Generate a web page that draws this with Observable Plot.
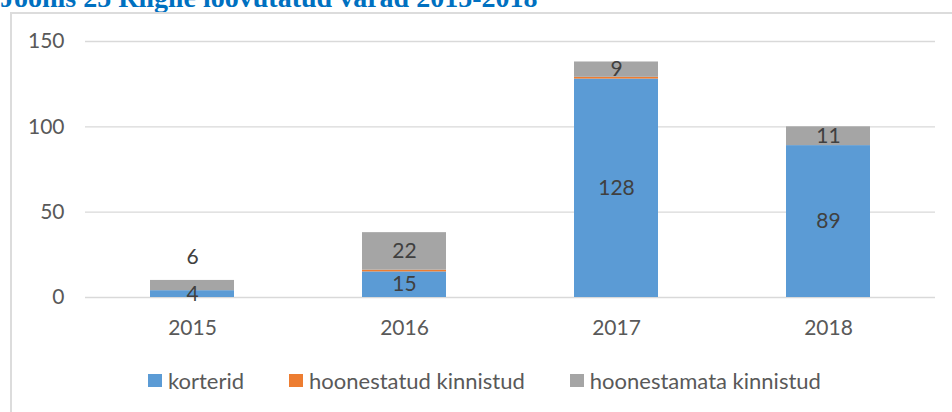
<!DOCTYPE html>
<html>
<head>
<meta charset="utf-8">
<script src="https://cdn.jsdelivr.net/npm/d3@7"></script>
<script src="https://cdn.jsdelivr.net/npm/@observablehq/plot@0.6"></script>
<style>
  html, body { margin: 0; padding: 0; background: #fff; width: 952px; height: 412px; overflow: hidden; position: relative; font-family: Lato, sans-serif; }
  #title { position: absolute; left: 0; top: -14px; font-family: "Liberation Serif", serif; font-weight: bold; font-size: 28px; line-height: 24px; color: #0070C0; white-space: nowrap; }
  #frame { position: absolute; left: 10px; top: 12px; width: 1000px; height: 450px; border: 2px solid #DCDCDC; box-sizing: border-box; }
  #chart { position: absolute; left: 0; top: 0; }
  #legend { position: absolute; left: 148px; top: 367px; display: flex; align-items: center; font-family: Lato, sans-serif; font-size: 22px; color: #595959; white-space: nowrap; }
  .item { display: flex; align-items: center; margin-right: 45px; }
  .sw { width: 14px; height: 13px; margin-right: 6px; }
</style>
</head>
<body>
<div id="title">Joonis 25 Riigile loovutatud varad 2015-2018</div>
<div id="frame"></div>
<div id="chart"></div>
<div id="legend"></div>
<script>
const years = ["2015", "2016", "2017", "2018"];
const seriesNames = ["korterid", "hoonestatud kinnistud", "hoonestamata kinnistud"];
const colors = ["#5B9BD5", "#ED7D31", "#A5A5A5"];
const korterid = [4, 15, 128, 89];
const hoonestatud = [0, 1, 1, 0];
const hoonestamata = [6, 22, 9, 11];
const yTicks = [0, 50, 100, 150];

const seriesValues = [korterid, hoonestatud, hoonestamata];
const data = [];
seriesNames.forEach((s, i) => {
  years.forEach((y, j) => {
    data.push({year: y, series: s, value: seriesValues[i][j]});
  });
});

// labels shown: korterid and hoonestamata; small top segments are labelled above the bar
const labelled = d => d.series !== "hoonestatud kinnistud";
const smallTop = d => d.series === "hoonestamata kinnistud" && d.value < 7;

const plot = Plot.plot({
  width: 952,
  height: 412,
  marginLeft: 85,
  marginRight: 17,
  marginTop: 41,
  marginBottom: 115,
  style: {fontFamily: "Lato, sans-serif", fontSize: "21px", color: "#595959", background: "transparent"},
  x: {domain: years, paddingInner: 0.605, paddingOuter: 0.3025, label: null, tickSize: 0, tickPadding: 23},
  y: {domain: [0, 150], ticks: yTicks, label: null, tickSize: 0, tickPadding: 21},
  color: {domain: seriesNames, range: colors},
  marks: [
    Plot.gridY(yTicks, {stroke: "#D9D9D9", strokeOpacity: 1, strokeWidth: 1.3}),
    Plot.barY(data, Plot.stackY({x: "year", y: "value", z: "series", fill: "series", order: seriesNames})),
    Plot.text(data, Plot.stackY({
      x: "year", y: "value", z: "series", order: seriesNames,
      text: d => (labelled(d) && d.value > 0 && !smallTop(d)) ? String(d.value) : null,
      fill: "#404040", fontSize: 21
    })),
    Plot.text(data, Plot.stackY2({
      x: "year", y: "value", z: "series", order: seriesNames,
      text: d => smallTop(d) ? String(d.value) : null,
      fill: "#404040", fontSize: 21, dy: -23
    }))
  ]
});
document.getElementById("chart").appendChild(plot);

const legend = document.getElementById("legend");
seriesNames.forEach((s, i) => {
  const item = document.createElement("div");
  item.className = "item";
  const sw = document.createElement("div");
  sw.className = "sw";
  sw.style.background = colors[i];
  const t = document.createElement("span");
  t.textContent = s;
  item.appendChild(sw);
  item.appendChild(t);
  legend.appendChild(item);
});
</script>
</body>
</html>
